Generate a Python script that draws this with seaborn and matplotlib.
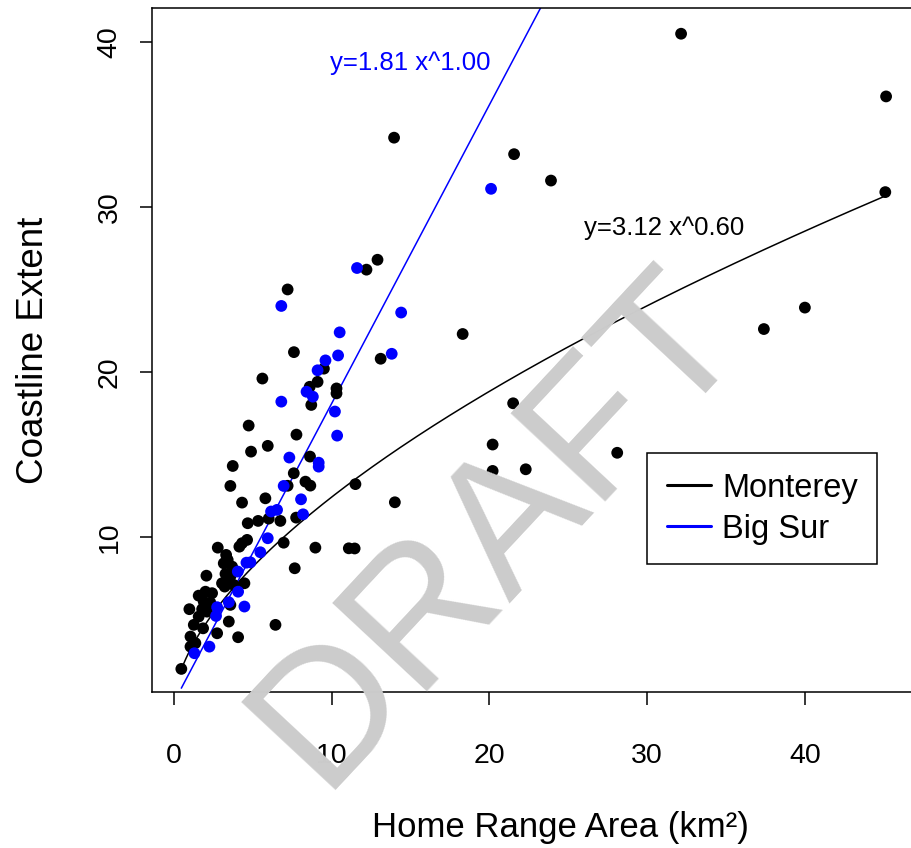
import numpy as np
import pandas as pd
import matplotlib
matplotlib.use("Agg")
import matplotlib.pyplot as plt
import seaborn as sns
from matplotlib.lines import Line2D

# ---- data ----
monterey_x = [2.77, 3.30, 3.40, 3.15, 3.68, 3.26, 3.57, 3.47, 3.04, 3.78, 3.21, 2.05, 1.56, 1.99,
              2.41, 1.88, 2.30, 1.78, 0.97, 2.09, 1.56, 1.25, 1.84, 1.04, 1.35, 1.04, 2.73, 3.47,
              4.06, 3.57, 4.46, 0.46, 6.43, 7.65, 6.95, 8.96, 11.08, 4.14, 4.31, 4.63, 4.67, 5.33,
              6.00, 6.74, 7.74, 5.79, 4.31, 3.57, 3.72, 4.88, 5.94, 4.73, 7.76, 8.62, 7.59, 8.33,
              8.64, 7.20, 11.45,
              7.2, 7.6, 9.5, 9.1, 8.6, 10.3, 10.3, 8.7, 5.6,
              32.15, 45.15, 45.1, 21.56, 23.9, 13.95, 37.4, 40.0, 18.3, 28.1, 20.2, 20.2, 22.3,
              21.5, 14.0, 11.5, 12.9, 12.2, 13.1]
monterey_y = [9.35, 8.91, 8.61, 8.40, 8.20, 7.76, 7.60, 7.29, 7.19, 7.09, 6.99, 7.65, 6.44, 6.68,
              6.59, 6.08, 6.02, 5.62, 5.62, 5.47, 5.17, 4.67, 4.46, 3.96, 3.56, 3.35, 4.16, 4.87,
              3.92, 5.88, 7.19, 2.00, 4.67, 8.10, 9.65, 9.35, 9.31, 9.41, 9.62, 9.82, 10.83, 10.97,
              11.11, 10.97, 11.17, 12.34, 12.08, 13.09, 14.30, 15.17, 15.52, 16.75, 16.20, 14.87,
              13.86, 13.35, 13.11, 13.10, 9.30,
              25.0, 21.2, 20.2, 19.4, 19.1, 19.0, 18.7, 18.0, 19.6,
              40.5, 36.7, 30.9, 33.2, 31.6, 34.2, 22.6, 23.9, 22.3, 15.1, 15.6, 14.0, 14.1,
              18.1, 12.1, 13.2, 26.8, 26.2, 20.8]

bigsur_x = [4.04, 4.06, 3.47, 4.46, 2.73, 2.66, 2.24, 1.29, 4.84, 4.59, 5.47, 5.94, 6.53, 6.15,
            8.05, 8.18, 6.95, 7.31, 9.17, 9.17, 10.34,
            6.8, 10.5, 10.4, 9.6, 9.1, 8.4, 8.8, 6.8, 10.2, 13.8, 14.4, 11.6, 20.1]
bigsur_y = [7.90, 6.68, 6.04, 5.78, 5.74, 5.21, 3.35, 2.95, 8.46, 8.44, 9.07, 9.92, 11.64, 11.54,
            12.28, 11.37, 13.09, 14.81, 14.50, 14.26, 16.14,
            24.0, 22.4, 21.0, 20.7, 20.1, 18.8, 18.5, 18.2, 17.6, 21.1, 23.6, 26.3, 31.1]

groups = ["Monterey", "Big Sur"]
colors = ["black", "blue"]
fit_a = [3.12, 1.81]
fit_b = [0.60, 1.00]
fit_labels = ["y=3.12 x^0.60", "y=1.81 x^1.00"]

df = pd.DataFrame({
    "area": monterey_x + bigsur_x,
    "coast": monterey_y + bigsur_y,
    "group": ["Monterey"] * len(monterey_x) + ["Big Sur"] * len(bigsur_x),
})

# ---- figure ----
sns.set_style("ticks")
plt.rcParams["font.family"] = ["Liberation Sans", "DejaVu Sans"]
plt.rcParams["text.color"] = "black"
plt.rcParams["axes.labelcolor"] = "black"
plt.rcParams["xtick.color"] = "black"
plt.rcParams["ytick.color"] = "black"

fig = plt.figure(figsize=(9.11, 8.48), dpi=100)
# plot region runs past the right edge of the picture (cropped like the reference)
ax_left, ax_right = 152, 968
ax = fig.add_axes([ax_left / 911, 1 - 692 / 848, (ax_right - ax_left) / 911, (692 - 8) / 848])

# watermark
fig.text(0.547, 0.377, "DRAFT", fontsize=135, color="#cccccc", rotation=47,
         ha="center", va="center", zorder=0)
ax.set_facecolor("none")

sns.scatterplot(data=df, x="area", y="coast", hue="group",
                palette=dict(zip(groups, colors)), s=72, edgecolor="none",
                legend=False, ax=ax, zorder=3)

xmin, xmax = min(df["area"]), max(df["area"])
xs = np.linspace(xmin, xmax, 300)
for a, b, c in zip(fit_a, fit_b, colors):
    sns.lineplot(x=xs, y=a * xs ** b, color=c, lw=1.1, ax=ax, zorder=2)

ax.text(15.0, 38.75, fit_labels[1], color="blue", fontsize=18.5, ha="center", va="center")
ax.text(31.1, 28.75, fit_labels[0], color="black", fontsize=18.5, ha="center", va="center")

px_per_unit = 15.77
ax.set_xlim(-1.4, -1.4 + (ax_right - ax_left) / px_per_unit)
ax.set_ylim(0.6, 42.06)
ax.set_xticks([0, 10, 20, 30, 40])
ax.set_yticks([10, 20, 30, 40])
ax.tick_params(axis="x", length=9, width=1.1, labelsize=20.5, pad=28, colors="black")
ax.tick_params(axis="y", length=9, width=1.1, labelsize=20.5, pad=12, colors="black")
for lab in ax.get_yticklabels():
    lab.set_rotation(90)
    lab.set_va("center")
for sp in ax.spines.values():
    sp.set_visible(True)
    sp.set_linewidth(1.1)
    sp.set_color("black")

ax.set_xlabel("Home Range Area (km²)", fontsize=25, labelpad=30, color="black")
ax.set_ylabel("Coastline Extent", fontsize=26.5, labelpad=33, color="black")

handles = [Line2D([0], [0], color=c, lw=2.2) for c in colors]
leg = ax.legend(handles, groups, loc="upper left",
                bbox_to_anchor=((647 - ax_left) / (ax_right - ax_left), 0.349),
                borderaxespad=0, fontsize=23.5, frameon=True, fancybox=False,
                edgecolor="black", framealpha=1, handlelength=1.35, handletextpad=0.35,
                borderpad=0.6, labelspacing=0.3)
leg.get_frame().set_linewidth(1.1)
for t in leg.get_texts():
    t.set_color("black")

fig.savefig("out.png", dpi=100)
